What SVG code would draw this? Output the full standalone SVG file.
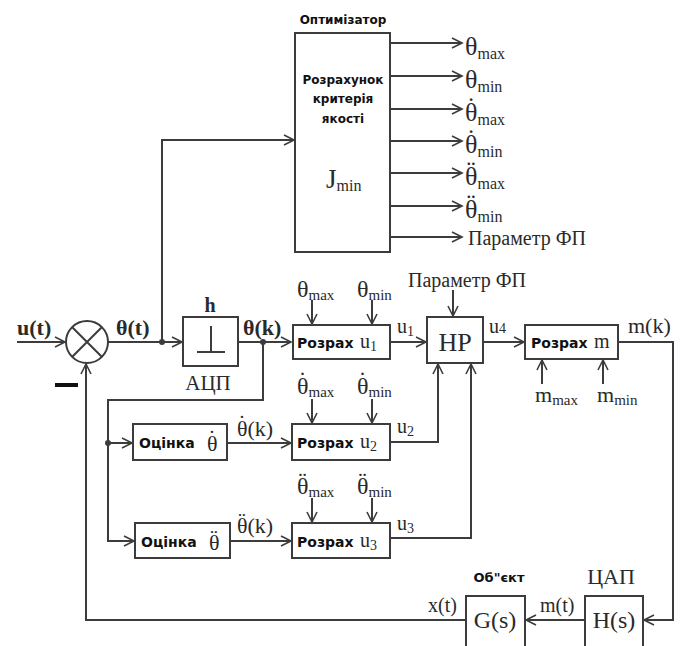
<svg xmlns="http://www.w3.org/2000/svg" width="680" height="646" viewBox="0 0 680 646">
<style>
.ln{fill:none;stroke:#3c3c3c;stroke-width:2}
.bx{fill:#fff;stroke:#3c3c3c;stroke-width:2}
.s{font-family:"Liberation Serif","Times New Roman",serif;fill:#2a2a2a}
.b{font-family:"DejaVu Sans","Verdana",sans-serif;font-weight:bold;fill:#111}
</style>
<defs>
<marker id="a" markerUnits="userSpaceOnUse" markerWidth="14" markerHeight="14" refX="11" refY="6" orient="auto">
<path d="M1,1 L11,6 L1,11" fill="none" stroke="#3c3c3c" stroke-width="1.6"/>
</marker>
</defs>
<rect width="680" height="646" fill="#fff"/>

<g id="connectors">
<path class="ln" d="M17,342 H65" marker-end="url(#a)"/>
<path class="ln" d="M108,342 H182" marker-end="url(#a)"/>
<circle cx="162" cy="342" r="3" fill="#3c3c3c"/>
<path class="ln" d="M162,342 V140 H294" marker-end="url(#a)"/>
<path class="ln" d="M238,342 H291" marker-end="url(#a)"/>
<circle cx="263" cy="342" r="3" fill="#3c3c3c"/>
<path class="ln" d="M263,342 V400 H108 V541 H134" marker-end="url(#a)"/>
<circle cx="108" cy="443" r="3" fill="#3c3c3c"/>
<path class="ln" d="M108,443 H132" marker-end="url(#a)"/>
<path class="ln" d="M227,443 H291" marker-end="url(#a)"/>
<path class="ln" d="M230,541 H291" marker-end="url(#a)"/>
<path class="ln" d="M390,342 H426" marker-end="url(#a)"/>
<path class="ln" d="M390,442 H438 V364" marker-end="url(#a)"/>
<path class="ln" d="M390,538 H471 V364" marker-end="url(#a)"/>
<path class="ln" d="M453,290 V316" marker-end="url(#a)"/>
<path class="ln" d="M483,342 H524" marker-end="url(#a)"/>
<path class="ln" d="M618,342 H673 V620 H644" marker-end="url(#a)"/>
<path class="ln" d="M585,620 H526" marker-end="url(#a)"/>
<path class="ln" d="M466,620 H86 V364" marker-end="url(#a)"/>
<path class="ln" d="M312,300 V324" marker-end="url(#a)"/>
<path class="ln" d="M372,300 V324" marker-end="url(#a)"/>
<path class="ln" d="M312,399 V423" marker-end="url(#a)"/>
<path class="ln" d="M372,399 V423" marker-end="url(#a)"/>
<path class="ln" d="M312,498 V522" marker-end="url(#a)"/>
<path class="ln" d="M372,498 V522" marker-end="url(#a)"/>
<path class="ln" d="M542,384 V360" marker-end="url(#a)"/>
<path class="ln" d="M603,384 V360" marker-end="url(#a)"/>
<path class="ln" d="M390,43 H462" marker-end="url(#a)"/>
<path class="ln" d="M390,76 H462" marker-end="url(#a)"/>
<path class="ln" d="M390,109 H462" marker-end="url(#a)"/>
<path class="ln" d="M390,141 H462" marker-end="url(#a)"/>
<path class="ln" d="M390,173 H462" marker-end="url(#a)"/>
<path class="ln" d="M390,206 H462" marker-end="url(#a)"/>
<path class="ln" d="M390,237 H462" marker-end="url(#a)"/>
<rect x="55" y="383" width="23" height="4" fill="#111"/>
</g>

<g id="optimizer">
<text class="b" x="343" y="24" font-size="12" text-anchor="middle">Оптимізатор</text>
<rect class="bx" x="295" y="33" width="95" height="219"/>
<text class="b" x="343" y="84" font-size="12" text-anchor="middle">Розрахунок</text>
<text class="b" x="343" y="103" font-size="12" text-anchor="middle">критерія</text>
<text class="b" x="343" y="123" font-size="12" text-anchor="middle">якості</text>
<text class="s" x="326" y="188" font-size="27">J<tspan font-size="16" dy="3">min</tspan></text>
</g>

<g id="opt-outputs" class="s" font-size="26">
<text x="465" y="55">θ<tspan font-size="16" dy="4">max</tspan></text>
<text x="465" y="88">θ<tspan font-size="16" dy="4">min</tspan></text>
<text x="465" y="121">θ<tspan dx="-10.8" dy="-6">˙</tspan><tspan font-size="16" dx="2.2" dy="10">max</tspan></text>
<text x="465" y="153">θ<tspan dx="-10.8" dy="-6">˙</tspan><tspan font-size="16" dx="2.2" dy="10">min</tspan></text>
<text x="465" y="185">θ<tspan dx="-10.8" dy="-6">¨</tspan><tspan font-size="16" dx="2.2" dy="10">max</tspan></text>
<text x="465" y="218">θ<tspan dx="-10.8" dy="-6">¨</tspan><tspan font-size="16" dx="2.2" dy="10">min</tspan></text>
<text x="468" y="245" font-size="20">Параметр ФП</text>
</g>

<g id="summer">
<circle class="bx" cx="87" cy="342" r="21"/>
<path class="ln" d="M72,327 L102,357 M102,327 L72,357"/>
</g>

<g id="labels-main" class="s" font-size="22">
<text x="17" y="335" font-weight="bold">u(t)</text>
<text x="116" y="335" font-weight="bold">θ(t)</text>
<text x="243" y="335" font-weight="bold">θ(k)</text>
<text x="397" y="333" font-size="20">u<tspan font-size="14" dy="3">1</tspan></text>
<text x="489" y="333" font-size="20">u<tspan font-size="14">4</tspan></text>
<text x="628" y="333" font-size="22">m(k)</text>
<text x="397" y="433" font-size="20">u<tspan font-size="14" dy="3">2</tspan></text>
<text x="397" y="530" font-size="20">u<tspan font-size="14" dy="3">3</tspan></text>
<text x="237" y="436">θ<tspan dx="-9.2" dy="-6">˙</tspan><tspan dx="1.8" dy="6">(k)</tspan></text>
<text x="237" y="533">θ<tspan dx="-9.2" dy="-6">¨</tspan><tspan dx="1.8" dy="6">(k)</tspan></text>
<text x="408" y="287" font-size="20">Параметр ФП</text>
<text x="297" y="297" font-size="24">θ<tspan font-size="15" dy="3">max</tspan></text>
<text x="357" y="297" font-size="24">θ<tspan font-size="15" dy="3">min</tspan></text>
<text x="297" y="394" font-size="24">θ<tspan dx="-10" dy="-6">˙</tspan><tspan font-size="15" dx="2" dy="9">max</tspan></text>
<text x="357" y="394" font-size="24">θ<tspan dx="-10" dy="-6">˙</tspan><tspan font-size="15" dx="2" dy="9">min</tspan></text>
<text x="297" y="494" font-size="24">θ<tspan dx="-10" dy="-6">¨</tspan><tspan font-size="15" dx="2" dy="9">max</tspan></text>
<text x="357" y="494" font-size="24">θ<tspan dx="-10" dy="-6">¨</tspan><tspan font-size="15" dx="2" dy="9">min</tspan></text>
<text x="535" y="402" font-size="22">m<tspan font-size="15" dy="3">max</tspan></text>
<text x="597" y="402" font-size="22">m<tspan font-size="15" dy="3">min</tspan></text>
<text x="428" y="612" font-size="20">x(t)</text>
<text x="540" y="612" font-size="20">m(t)</text>
</g>

<g id="adc">
<text class="s" x="210" y="312" font-size="20" text-anchor="middle" font-weight="bold">h</text>
<rect class="bx" x="183" y="317" width="55" height="49"/>
<path class="ln" d="M211,326 V352 M197,352 H225"/>
<text class="s" x="208" y="390" font-size="21" text-anchor="middle">АЦП</text>
</g>

<g id="calc-u1">
<rect class="bx" x="293" y="325" width="97" height="34"/>
<text class="b" x="297" y="348" font-size="14">Розрах</text>
<text class="s" x="360" y="348" font-size="20">u<tspan font-size="14" dy="3">1</tspan></text>
</g>
<g id="calc-u2">
<rect class="bx" x="292" y="424" width="98" height="36"/>
<text class="b" x="297" y="448" font-size="14">Розрах</text>
<text class="s" x="360" y="448" font-size="20">u<tspan font-size="14" dy="3">2</tspan></text>
</g>
<g id="calc-u3">
<rect class="bx" x="292" y="523" width="98" height="35"/>
<text class="b" x="297" y="547" font-size="14">Розрах</text>
<text class="s" x="360" y="547" font-size="20">u<tspan font-size="14" dy="3">3</tspan></text>
</g>
<g id="hp">
<rect class="bx" x="427" y="317" width="56" height="46"/>
<text class="s" x="455" y="351" font-size="26" text-anchor="middle">HP</text>
</g>
<g id="calc-m">
<rect class="bx" x="525" y="325" width="93" height="34"/>
<text class="b" x="531" y="348" font-size="14">Розрах</text>
<text class="s" x="594" y="348" font-size="20">m</text>
</g>
<g id="est1">
<rect class="bx" x="133" y="424" width="94" height="36"/>
<text class="b" x="139" y="448" font-size="14">Оцінка</text>
<text class="s" x="207" y="451" font-size="22">θ<tspan dx="-9.2" dy="-6">˙</tspan></text>
</g>
<g id="est2">
<rect class="bx" x="135" y="523" width="95" height="35"/>
<text class="b" x="141" y="547" font-size="14">Оцінка</text>
<text class="s" x="209" y="550" font-size="22">θ<tspan dx="-9.2" dy="-6">¨</tspan></text>
</g>
<g id="plant">
<text class="b" x="499" y="582" font-size="13" text-anchor="middle">Об"єкт</text>
<rect class="bx" x="466" y="596" width="59" height="60"/>
<text class="s" x="495" y="628" font-size="24" text-anchor="middle">G(s)</text>
</g>
<g id="dac">
<text class="s" x="611" y="584" font-size="22" text-anchor="middle">ЦАП</text>
<rect class="bx" x="585" y="596" width="58" height="60"/>
<text class="s" x="614" y="628" font-size="24" text-anchor="middle">H(s)</text>
</g>
</svg>
